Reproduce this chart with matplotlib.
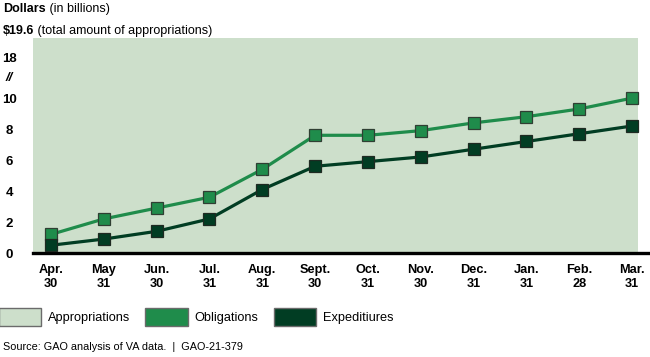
import matplotlib
matplotlib.use('Agg')
import matplotlib.pyplot as plt
from matplotlib.patches import Patch

plt.rcParams['font.family'] = ['Liberation Sans', 'DejaVu Sans']

# data (billions of dollars)
months = ['Apr.\n30', 'May\n31', 'Jun.\n30', 'Jul.\n31', 'Aug.\n31', 'Sept.\n30',
          'Oct.\n31', 'Nov.\n30', 'Dec.\n31', 'Jan.\n31', 'Feb.\n28', 'Mar.\n31']
obligations = [1.2, 2.2, 2.9, 3.6, 5.4, 7.6, 7.6, 7.9, 8.4, 8.8, 9.3, 10.0]
expenditures = [0.5, 0.9, 1.4, 2.2, 4.1, 5.6, 5.9, 6.2, 6.7, 7.2, 7.7, 8.2]
appropriations = 19.6

# broken y axis: 0-10 drawn as is, then a gap, 18 and up squeezed
ytick_vals = [0, 2, 4, 6, 8, 10]
break_at = 11.4
top_tick = 18
top_tick_pos = 12.65

def to_axis(v):
    if v <= 10:
        return v
    return top_tick_pos + (v - top_tick) * 0.77

c_app = '#cddfcb'
c_obl = '#1f8c4b'
c_exp = '#013d23'

fig = plt.figure(figsize=(6.5, 3.57), dpi=100)
ax = fig.add_axes([33 / 650, 104 / 357, 617 / 650, 215 / 357])

x = list(range(len(months)))
ax.set_xlim(-0.34, 11.34)
ax.set_ylim(0, to_axis(appropriations))

# appropriations area
ax.axhspan(0, to_axis(appropriations), xmin=0, xmax=605 / 617, color=c_app, lw=0, zorder=0)

ax.plot(x, obligations, color=c_obl, lw=2.3, marker='s', ms=8.5,
        mfc=c_obl, mec='#2f3f33', mew=0.9, zorder=3)
ax.plot(x, expenditures, color=c_exp, lw=2.3, marker='s', ms=8.5,
        mfc=c_exp, mec='#1e2a22', mew=0.9, zorder=3)

for s in ['top', 'right', 'left']:
    ax.spines[s].set_visible(False)
ax.spines['bottom'].set_linewidth(2.4)
ax.spines['bottom'].set_color('black')

ax.set_xticks(x)
ax.set_xticklabels(months, fontsize=9.2, fontweight='bold', linespacing=1.25)
ax.tick_params(axis='x', length=0, pad=8)

yt = ytick_vals + [break_at, top_tick_pos]
ylabels = [str(v) for v in ytick_vals] + ['//', str(top_tick)]
ax.set_yticks(yt)
ax.set_yticklabels(ylabels, fontsize=9.5, fontweight='bold')
for lbl in ax.get_yticklabels():
    lbl.set_horizontalalignment('center')
ax.get_yticklabels()[-2].set_fontstyle('italic')
ax.tick_params(axis='y', length=0, pad=17)

# titles
t1 = fig.text(3 / 650, 1 - 9 / 357, 'Dollars', fontsize=9, fontweight='bold', va='center')
ax.annotate(' (in billions)', xy=(1, 0), xycoords=t1, va='bottom', fontsize=9,
            annotation_clip=False)
t2 = fig.text(3 / 650, 1 - 31 / 357, '$%.1f' % appropriations, fontsize=9,
              fontweight='bold', va='center')
ax.annotate(' (total amount of appropriations)', xy=(1, 0), xycoords=t2, va='bottom',
            fontsize=9, annotation_clip=False)

# legend
handles = [Patch(facecolor=c_app, edgecolor='#6b6b6b', lw=1),
           Patch(facecolor=c_obl, edgecolor='#6b6b6b', lw=1),
           Patch(facecolor=c_exp, edgecolor='#6b6b6b', lw=1)]
fig.legend(handles, ['Appropriations', 'Obligations', 'Expeditiures'], ncol=3,
           loc='center left', bbox_to_anchor=(-0.002, 1 - 317 / 357), frameon=False,
           fontsize=9.2, handlelength=3.3, handleheight=1.75, handletextpad=0.55,
           columnspacing=1.2, borderaxespad=0, borderpad=0)

fig.text(3 / 650, 1 - 350 / 357, 'Source: GAO analysis of VA data.  |  GAO-21-379',
         fontsize=7.8, va='baseline')

fig.savefig('out.png', dpi=100)
